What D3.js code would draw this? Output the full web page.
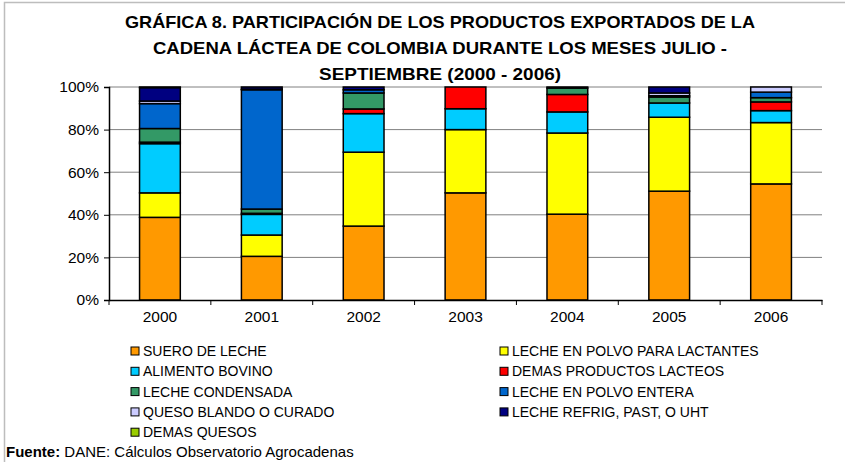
<!DOCTYPE html>
<html>
<head>
<meta charset="utf-8">
<script src="https://cdn.jsdelivr.net/npm/d3@7"></script>
<style>
  body { margin: 0; background: #fff; }
  text { font-family: "Liberation Sans", Arial, sans-serif; }
</style>
</head>
<body>
<div id="chart"></div>
<script>
// years on the x axis
var years = ["2000", "2001", "2002", "2003", "2004", "2005", "2006"];

// products, in stacking order (bottom to top)
var products = [
  "SUERO DE LECHE",
  "LECHE EN POLVO PARA LACTANTES",
  "ALIMENTO BOVINO",
  "DEMAS PRODUCTOS  LACTEOS",
  "LECHE CONDENSADA",
  "LECHE EN POLVO ENTERA",
  "QUESO BLANDO O CURADO",
  "LECHE REFRIG, PAST, O UHT",
  "DEMAS QUESOS"
];
var colors = ["#FF9900", "#FFFF00", "#00CCFF", "#FF0000", "#339966",
              "#0066CC", "#CCCCFF", "#000080", "#99CC00"];

// share (%) of each product, one value per year
var suero      = [38.8, 20.5, 34.7, 50.3, 40.3, 51.1, 54.5];
var lactantes  = [11.5, 10.0, 34.7, 29.7, 38.1, 34.7, 28.8];
var bovino     = [23.1,  9.7, 18.1,  9.8,  9.9,  6.7,  5.6];
var demasProd  = [ 0.7,  0.5,  2.2, 10.2,  8.2,  0.0,  4.1];
var condensada = [ 6.4,  2.0,  7.5,  0.0,  3.0,  2.8,  2.0];
var entera     = [11.7, 56.0,  1.5,  0.0,  0.0,  0.6,  2.6];
var queso      = [ 1.2,  0.3,  0.0,  0.0,  0.0,  1.3,  2.4];
var refrig     = [ 6.3,  1.0,  1.3,  0.0,  0.5,  2.8,  0.0];
var demasQues  = [ 0.3,  0.0,  0.0,  0.0,  0.0,  0.0,  0.0];

var yTicks = [0, 20, 40, 60, 80, 100];

var series = [suero, lactantes, bovino, demasProd, condensada, entera, queso, refrig, demasQues];
var rows = years.map(function (y, i) {
  var r = { year: y };
  products.forEach(function (p, k) { r[p] = series[k][i]; });
  return r;
});

var W = 845, H = 462;
var margin = { top: 87, right: 23, bottom: 162, left: 109 },
  width = W - margin.left - margin.right,
  height = H - margin.top - margin.bottom;

var svg = d3.select("#chart").append("svg")
  .attr("width", W).attr("height", H);

// outer frame
svg.append("path")
  .attr("d", "M4.5,462 V2.5 H845")
  .attr("fill", "none").attr("stroke", "#bdbdbd").attr("stroke-width", 1.5);

// title
var title = [
  { t: "GRÁFICA 8. PARTICIPACIÓN DE LOS PRODUCTOS EXPORTADOS DE LA", w: 630 },
  { t: "CADENA LÁCTEA DE COLOMBIA DURANTE LOS MESES JULIO -", w: 574 },
  { t: "SEPTIEMBRE (2000 - 2006)", w: 242 }
];
svg.append("g").selectAll("text").data(title).enter().append("text")
  .attr("x", 440).attr("y", function (d, i) { return 28 + i * 26; })
  .attr("text-anchor", "middle")
  .attr("textLength", function (d) { return d.w; })
  .attr("lengthAdjust", "spacingAndGlyphs")
  .style("font-size", "17px").style("font-weight", "bold")
  .text(function (d) { return d.t; });

var g = svg.append("g")
  .attr("transform", "translate(" + margin.left + "," + margin.top + ")");

var x = d3.scaleBand().domain(years).range([0, width])
  .paddingInner(0.6).paddingOuter(0.3);
var y = d3.scaleLinear().domain([0, 100]).range([height, 0]);

// gridlines
g.append("g").selectAll("line").data(yTicks.slice(1)).enter().append("line")
  .attr("x1", 0).attr("x2", width)
  .attr("y1", function (d) { return y(d); }).attr("y2", function (d) { return y(d); })
  .attr("stroke", "#808080").attr("stroke-width", 1);

// stacked bars
var stack = d3.stack().keys(products).offset(d3.stackOffsetExpand);
var layers = stack(rows);

g.append("g").selectAll("g").data(layers).enter().append("g")
  .attr("fill", function (d, i) { return colors[i]; })
  .selectAll("rect").data(function (d) { return d; }).enter()
  .filter(function (d) { return d[1] - d[0] > 0; })
  .append("rect")
  .attr("x", function (d) { return x(d.data.year); })
  .attr("y", function (d) { return y(d[1] * 100); })
  .attr("width", x.bandwidth())
  .attr("height", function (d) { return y(d[0] * 100) - y(d[1] * 100); })
  .attr("stroke", "#000").attr("stroke-width", 1.5);

// y axis
var yAxis = g.append("g")
  .call(d3.axisLeft(y).tickValues(yTicks).tickSize(5).tickFormat(function (d) { return d + "%"; }));
yAxis.select(".domain").attr("stroke", "#000").attr("stroke-width", 1.5);
yAxis.selectAll("text").style("font-size", "15.5px").attr("x", -10);

// x axis with ticks between categories
var xAxis = g.append("g").attr("transform", "translate(0," + height + ")")
  .call(d3.axisBottom(x).tickSize(0).tickSizeOuter(0));
xAxis.select(".domain").attr("stroke", "#000").attr("stroke-width", 1.5);
xAxis.selectAll("text").style("font-size", "15.5px").attr("dy", "1.25em");
var step = x.step();
xAxis.selectAll(".sep").data(d3.range(years.length + 1)).enter().append("line")
  .attr("x1", function (d) { return d * step; }).attr("x2", function (d) { return d * step; })
  .attr("y1", 0).attr("y2", 5).attr("stroke", "#000");

// legend
var legend = svg.append("g");
var items = legend.selectAll("g").data(products).enter().append("g")
  .attr("transform", function (d, i) {
    var col = i % 2, row = Math.floor(i / 2);
    return "translate(" + (col ? 500 : 131) + "," + (347 + row * 20.3) + ")";
  });
items.append("rect")
  .attr("width", 8).attr("height", 8)
  .attr("fill", function (d, i) { return colors[i]; })
  .attr("stroke", "#000").attr("stroke-width", 1);
items.append("text")
  .attr("x", 12).attr("y", 9)
  .style("font-size", "14px")
  .text(function (d) { return d; });

// source
var src = svg.append("text").attr("x", 6).attr("y", 457).style("font-size", "15px");
src.append("tspan").style("font-weight", "bold").text("Fuente:");
src.append("tspan").text(" DANE: Cálculos Observatorio Agrocadenas");
</script>
</body>
</html>
